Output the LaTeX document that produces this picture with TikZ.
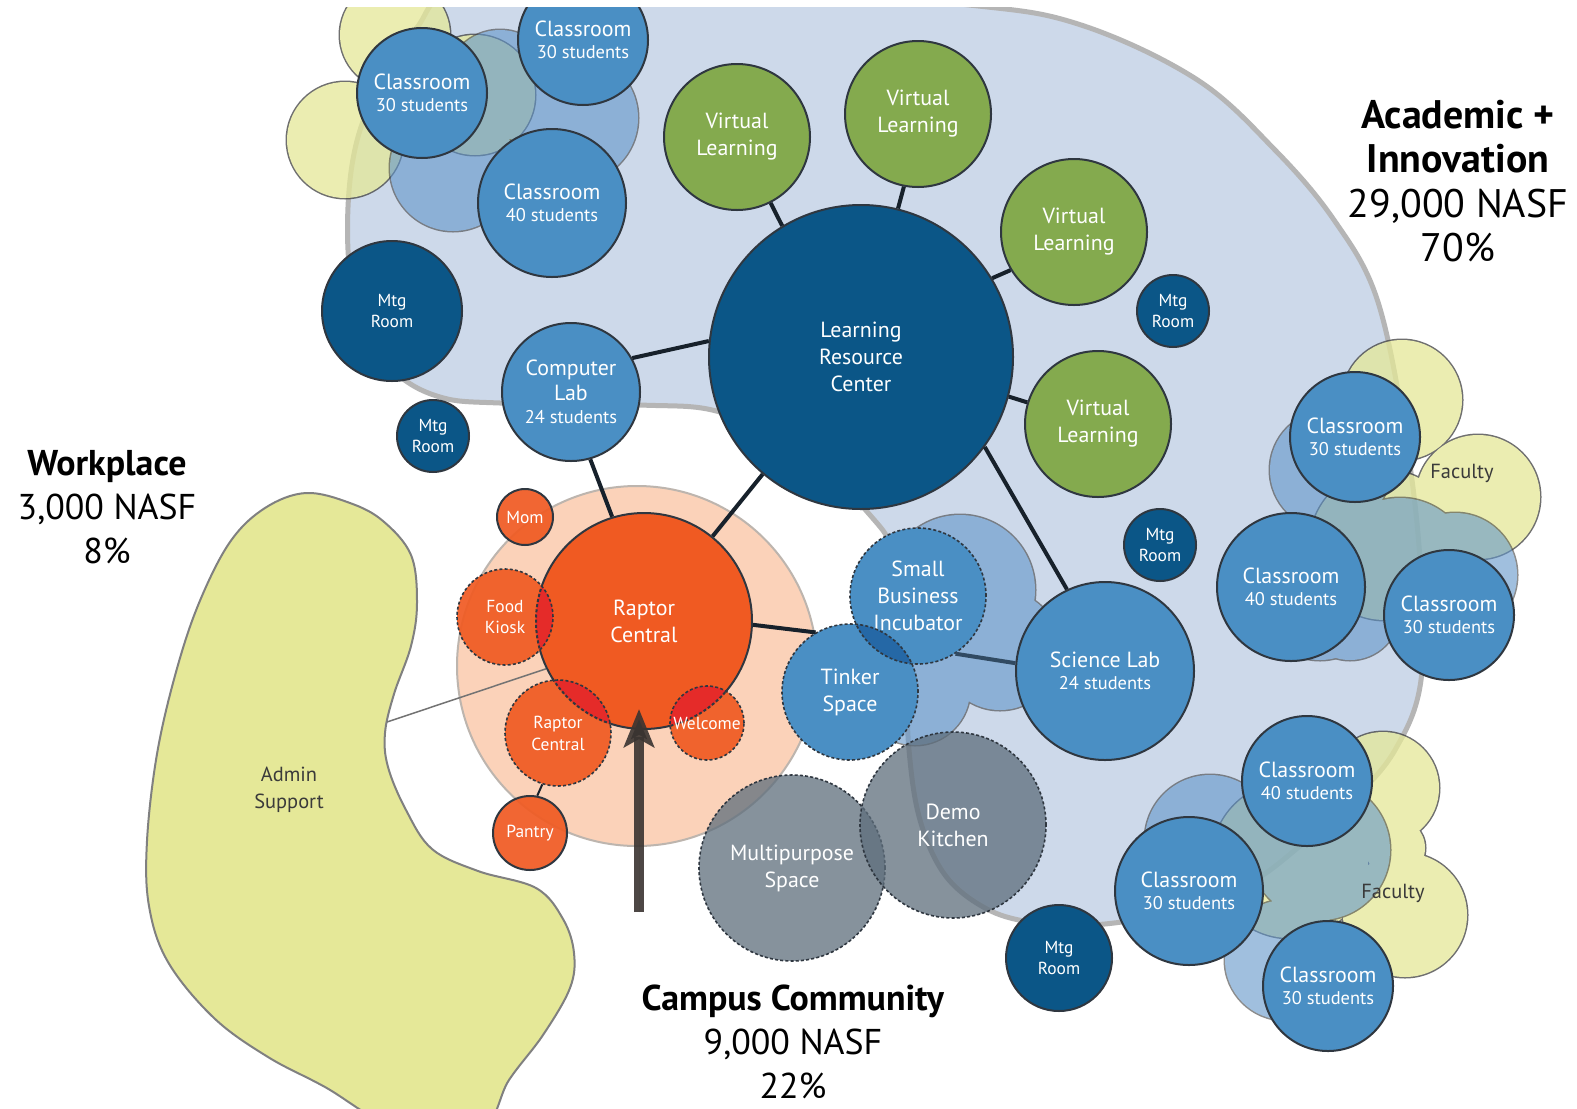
\documentclass[tikz,border=0pt]{standalone}
\usepackage{fontspec}
\setmainfont{PT Sans}
\usetikzlibrary{arrows.meta}

\definecolor{zonefill}{HTML}{CDD9EA}
\definecolor{zoneline}{HTML}{B5B5B5}
\definecolor{deepc}{HTML}{0B5687}
\definecolor{midc}{HTML}{4A8FC4}
\definecolor{leafc}{HTML}{84AA4E}
\definecolor{flamec}{HTML}{F05A22}
\definecolor{hotc}{HTML}{E5282A}
\definecolor{peachc}{HTML}{FBD2B9}
\definecolor{peachline}{HTML}{BDB5AE}
\definecolor{slatec}{HTML}{5E6E7C}
\definecolor{strawc}{HTML}{E5E898}
\definecolor{cloudc}{HTML}{6195C9}
\definecolor{cloudedge}{HTML}{404040}
\definecolor{ringc}{HTML}{2F3740}
\definecolor{linkc}{HTML}{17212B}
\definecolor{inkc}{HTML}{3A3A3A}
\definecolor{lensb}{HTML}{2568A6}
\definecolor{arrowc}{HTML}{3A3431}

\newcommand{\seats}[1]{{\fontsize{18.5}{21}\selectfont #1}}
% blob made of a few circles, outlined only on the outside
\newcommand{\cloud}[3]{%
  \begin{scope}[transparency group, opacity=#2]
    \foreach \cx/\cy/\cr in {#3}{\draw[draw=cloudedge, line width=3bp] (\cx,\cy) circle[radius=\cr*1bp];}
    \fill[#1] \foreach \cx/\cy/\cr in {#3}{(\cx,\cy) circle[radius=\cr*1bp]};
  \end{scope}}

\begin{document}
\begin{tikzpicture}[x=1bp, y=-1bp, >=Stealth,
    room/.style={circle, inner sep=0pt, minimum size=#1*2bp, draw=ringc, line width=2bp, align=center, text=white, font=\fontsize{22}{27}\selectfont},
    skyroom/.style={room=#1, fill=midc},
    navyroom/.style={room=#1, fill=deepc, font=\fontsize{17.5}{21}\selectfont},
    leafroom/.style={room=#1, fill=leafc},
    fireroom/.style={room=#1, fill=flamec},
    ashroom/.style={room=#1, fill=slatec, fill opacity=.75, text opacity=1, dashring},
    petite/.style={font=\fontsize{17.5}{22}\selectfont, fill opacity=.92, text opacity=1},
    dashring/.style={dash pattern=on 3bp off 2.2bp, line width=1.6bp},
    lens/.style n args={4}{path picture={\fill[#3] (#1) circle[radius=#2]; \draw[ringc, #4] (#1) circle[radius=#2];}},
    zone/.style={fill=zonefill, draw=zoneline, line width=5bp},
    straw/.style={fill=strawc, draw=black!50, line width=2bp},
    link/.style={draw=linkc, line width=4bp},
    note/.style={align=center, text=inkc, font=\fontsize{20.5}{27}\selectfont},
    head/.style={align=center, text=black}]

  \useasboundingbox (0,0) rectangle (1577,1108);
  \fill[white] (0,0) rectangle (1577,1108);
  \begin{scope}
  \clip (0,7) rectangle (1577,1108);

  % Zonas de fondo
  \draw[zone] plot[smooth cycle, tension=0.6] coordinates {(372,100) (415,30) (470,-12) (700,-18) (960,4) (1078,24) (1196,79) (1275,150) (1334,220) (1377,299) (1405,433) (1420,560) (1421,680) (1395,750) (1353,800) (1307,840) (1260,877) (1213,900) (1150,917) (1090,925) (1030,922) (985,908) (945,875) (920,820) (909,750) (905,660) (895,560) (870,515) (800,450) (720,412) (640,405) (500,403) (440,397) (395,372) (360,322) (348,250) (352,165)};
  \node[circle, minimum size=360bp, fill=peachc, draw=peachline, line width=2bp] (cc) at (637,666) {};
  \draw[straw] plot[smooth cycle, tension=0.6] coordinates {(306,493) (350,503) (383,521) (411,555) (417,603) (411,646) (394,694) (385,733) (388,767) (406,810) (432,849) (478,871) (536,888) (563,919) (574,953) (570,988) (543,1035) (509,1080) (480,1130) (400,1130) (325,1087) (268,1057) (214,1018) (168,962) (149,906) (147,841) (157,754) (176,672) (199,603) (230,542) (265,508)};
  \coordinate (adm) at (387,722);

  % Manchas de apoyo (faculty y aulas)
  \cloud{strawc}{0.75}{345/140/58, 395/35/55, 475/95/60}
  \cloud{strawc}{0.75}{1402/400/60, 1478/497/62, 1385/545/75}
  \cloud{strawc}{0.75}{1383/788/56, 1395/848/30, 1405/915/62, 1290/860/78}
  \cloud{cloudc}{0.6}{453/168/63, 573/118/65, 500/85/55}
  \cloud{cloudc}{0.6}{960/590/75, 1000/650/60, 915/690/55}
  \cloud{cloudc}{0.6}{1330/470/60, 1400/570/72, 1455/575/62, 1320/600/60, 1350/610/50}
  \cloud{cloudc}{0.6}{1210/840/65, 1285/960/60, 1320/850/70}

  % Academic + Innovation
  \node[skyroom=65] (cr1) at (422,93) {Classroom\\[-5bp]\seats{30 students}};
  \node[skyroom=65] (cr2) at (583,40) {Classroom\\[-5bp]\seats{30 students}};
  \node[skyroom=74] (cr3) at (552,203) {Classroom\\[-5bp]\seats{40 students}};
  \node[navyroom=70] (mtg1) at (392,311) {Mtg\\Room};
  \node[navyroom=36] (mtg2) at (433,436) {Mtg\\Room};
  \node[skyroom=69] (lab) at (571,392) {Computer\\[-2bp]Lab\\[-4bp]\seats{24 students}};
  \node[room=152, fill=deepc] (lrc) at (861,357) {Learning\\Resource\\Center};
  \node[leafroom=73] (vl1) at (737,137) {Virtual\\Learning};
  \node[leafroom=73] (vl2) at (918,114) {Virtual\\Learning};
  \node[leafroom=73] (vl3) at (1074,232) {Virtual\\Learning};
  \node[leafroom=73] (vl4) at (1098,424) {Virtual\\Learning};
  \node[navyroom=36] (mtg3) at (1173,311) {Mtg\\Room};
  \node[navyroom=36] (mtg4) at (1160,545) {Mtg\\Room};
  \node[navyroom=53] (mtg5) at (1059,958) {Mtg\\Room};
  \node[skyroom=89] (sci) at (1105,671) {Science Lab\\[-5bp]\seats{24 students}};
  \node[skyroom=65] (cr4) at (1355,437) {Classroom\\[-5bp]\seats{30 students}};
  \node[skyroom=74] (cr5) at (1291,587) {Classroom\\[-5bp]\seats{40 students}};
  \node[skyroom=65] (cr6) at (1449,615) {Classroom\\[-5bp]\seats{30 students}};
  \node[skyroom=65] (cr7) at (1307,781) {Classroom\\[-5bp]\seats{40 students}};
  \node[skyroom=74] (cr8) at (1189,891) {Classroom\\[-5bp]\seats{30 students}};
  \node[skyroom=65] (cr9) at (1328,986) {Classroom\\[-5bp]\seats{30 students}};
  \node[note] (fac1) at (1462,473) {Faculty};
  \node[note] (fac2) at (1393,893) {Faculty};

  % Campus Community
  \node[skyroom=68, dashring] (sbi) at (918,596) {Small\\Business\\Incubator};
  \node[skyroom=68, dashring, lens={sbi.center}{68bp}{lensb}{dashring}] (tnk) at (850,692) {Tinker\\Space};
  \node[fireroom=108] (rc) at (644,621) {Raptor\\Central};
  \node[fireroom=48, petite, dashring, lens={rc.center}{108bp}{hotc}{line width=2bp}] (kiosk) at (505,617) {Food\\Kiosk};
  \node[fireroom=53, petite, dashring, lens={rc.center}{108bp}{hotc}{line width=2bp}] (rc2) at (558,733) {Raptor\\Central};
  \node[fireroom=37, petite, dashring, lens={rc.center}{108bp}{hotc}{line width=2bp}] (welc) at (707,723) {Welcome};
  \node[fireroom=28, petite] (mom) at (525,517) {Mom};
  \node[fireroom=37, petite] (pantry) at (530,833) {Pantry};
  \node[ashroom=93] (multi) at (792,868) {Multipurpose\\Space};
  \node[ashroom=93, text depth=0pt] (demo) at (953,825) {Demo\\Kitchen};

  % Workplace
  \node[note] (admin) at (289,790) {Admin\\Support};

  % Conexiones
  \draw[link] (lab.29) -- (lrc.174);
  \draw[link] (lab.-74) -- (rc.107);
  \draw[link] (rc.51) -- (lrc.230);
  \draw[link] (rc.-2) -- (tnk.120);
  \draw[link, draw=linkc!65!cloudc] (sbi.-57) -- (sci.175);
  \draw[link] (lrc.-36) -- (sci.115);
  \draw[link] (lrc.121) -- (vl1.-63);
  \draw[link] (lrc.76) -- (vl2.259);
  \draw[link] (lrc.31) -- (vl3.211);
  \draw[link] (lrc.-15) -- (vl4.163);
  \draw[draw=linkc, line width=2bp] (rc2.-107) -- (pantry.79);
  \draw[draw=black!55, line width=1.5bp] (adm) -- (rc.206);

  % Entrada
  \coordinate (foot) at (639,912);
  \coordinate (tip) at (639,709);
  \draw[draw=arrowc, draw opacity=.9, fill=arrowc, line width=10bp, -{Stealth[length=38bp, width=30bp, inset=8bp]}] (foot) -- (tip);

  % Totales por zona
  \node[head, font=\fontsize{36}{44}\selectfont] (work) at (107,507) {\textbf{Workplace}\\3,000 NASF\\8\%};
  \node[head, font=\fontsize{40}{44.5}\selectfont] (acad) at (1458,181) {\textbf{Academic +}\\\textbf{Innovation}\\29,000 NASF\\70\%};
  \node[head, font=\fontsize{36}{44}\selectfont] (camp) at (793,1042) {\textbf{Campus Community}\\9,000 NASF\\22\%};
  \end{scope}

\end{tikzpicture}
\end{document}
